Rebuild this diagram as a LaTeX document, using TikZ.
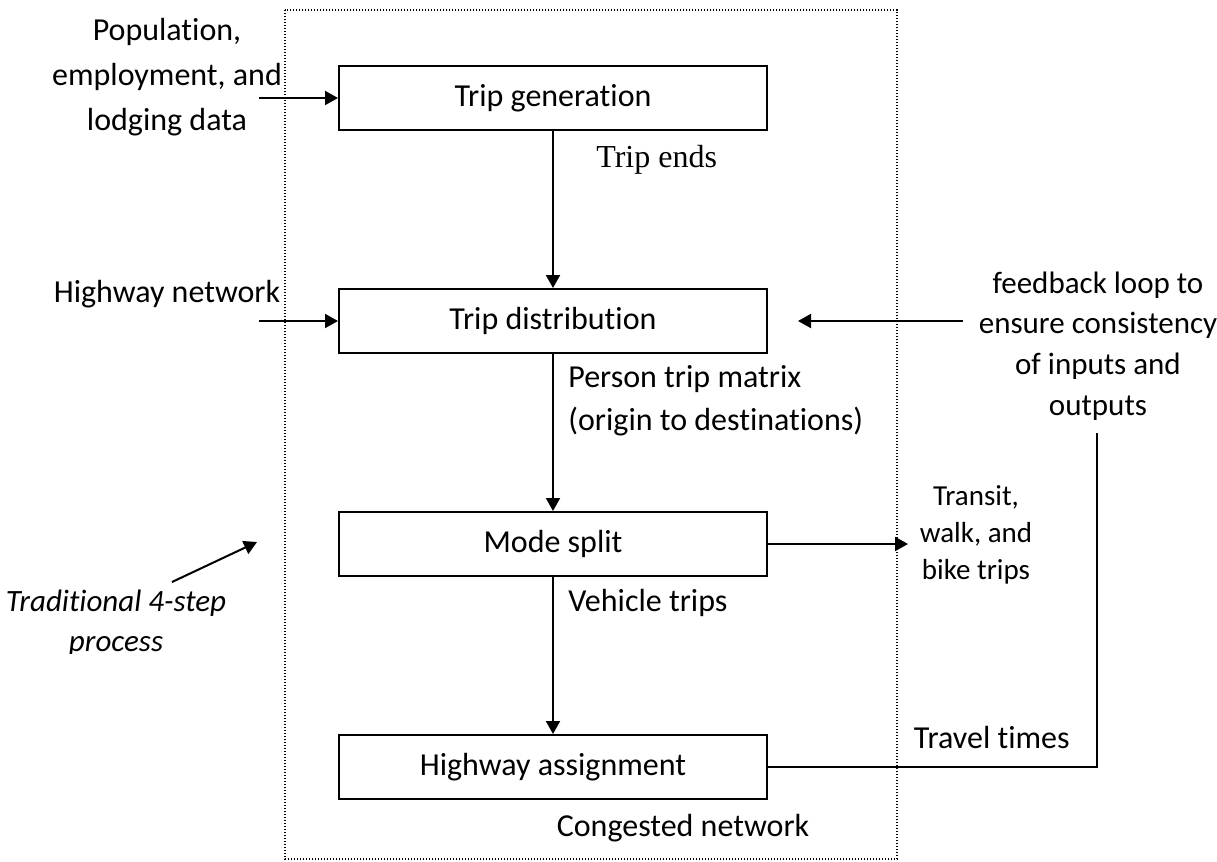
\documentclass[tikz,border=0pt]{standalone}
\usepackage{fontspec}
\setmainfont{Carlito}[Ligatures={NoCommon}]
\newfontfamily\timesf{Liberation Serif}
\usetikzlibrary{arrows.meta}
\tikzset{
  stepbox/.style={draw, line width=1pt, minimum width=214pt, minimum height=32pt, inner sep=0pt, font=\fontsize{16}{19}\selectfont},
  conn/.style={line width=1pt},
  arr/.style={line width=1pt, -{Triangle[length=6.5pt,width=7pt]}},
  lbl/.style={inner sep=0pt, font=\fontsize{16}{19}\selectfont},
  frame/.style={line width=0.7pt, dash pattern=on 0.7pt off 0.8pt}
}
\begin{document}
\begin{tikzpicture}[x=0.5pt,y=-0.5pt]
\useasboundingbox (0,0) rectangle (1217,862);
% dotted frame
\draw[frame] (285,10) rectangle (897,859);
% step boxes
\node[stepbox] (tg) at (553,98) {Trip generation};
\node[stepbox] (td) at (553,321) {Trip distribution};
\node[stepbox] (ms) at (553,544) {Mode split};
\node[stepbox] (ha) at (553,767) {Highway assignment};
% labels
\node[lbl, align=center, font=\fontsize{16}{22.5}\selectfont] (pop) at (167,77) {Population,\\employment, and\\lodging data};
\node[lbl] (hn) at (167,294) {Highway network};
\node[lbl, anchor=west, font=\timesf\fontsize{16}{19}\selectfont] (te) at (596,160) {Trip ends};
\node[lbl, anchor=west, align=left, font=\fontsize{16}{21.5}\selectfont] (ptm) at (568,401) {Person trip matrix\\(origin to destinations)};
\node[lbl, anchor=west] (vt) at (568,603) {Vehicle trips};
\node[lbl] (cn) at (683,828) {Congested network};
\node[lbl, align=center, font=\fontsize{15.5}{20.4}\selectfont] (fb) at (1098,346) {feedback loop to\\ensure consistency\\of inputs and\\outputs};
\node[lbl, align=center, font=\fontsize{14.5}{18.5}\selectfont] (tr) at (976,535) {Transit,\\walk, and\\bike trips};
\node[lbl, anchor=east] (tt) at (1070,738) {Travel times};
\begin{scope}
\clip (0,560) rectangle (284,653);
\node[lbl, align=center, font=\itshape\fontsize{15.5}{20}\selectfont] (trad) at (116,623) {Traditional 4-step\\process};
\end{scope}
% coordinates for free ends
\coordinate (popend) at (259,98);
\coordinate (hnend) at (259,321);
\coordinate (fbstart) at (963,321);
\coordinate (fbtip) at (798,321);
\coordinate (trtip) at (908,544);
\coordinate (fbtop) at (1097,433);
\coordinate (tradstart) at (172,582);
\coordinate (tradtip) at (257,542);
% connectors
\draw[arr] (popend) -- (tg.west);
\draw[arr] (hnend) -- (td.west);
\draw[arr] (tg.south) -- (td.north);
\draw[arr] (td.south) -- (ms.north);
\draw[arr] (ms.south) -- (ha.north);
\draw[arr] (ms.east) -- (trtip);
\draw[arr] (fbstart) -- (fbtip);
\draw[conn] (fbtop) |- (ha.east);
\draw[arr] (tradstart) -- (tradtip);
\end{tikzpicture}
\end{document}
